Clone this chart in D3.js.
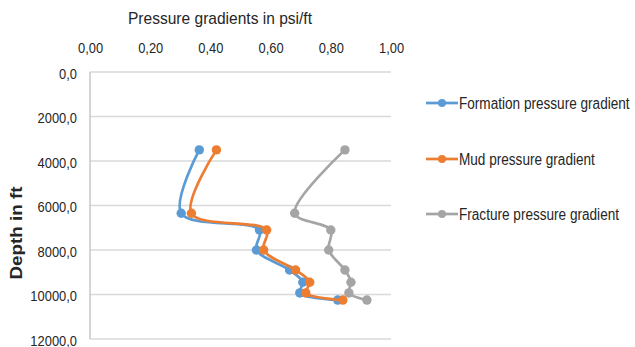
<!DOCTYPE html>
<html><head><meta charset="utf-8">
<script src="https://cdn.jsdelivr.net/npm/d3@7"></script>
<style>body{margin:0;background:#fff}svg{display:block}text{font-family:"Liberation Sans",sans-serif;fill:#262626}</style>
</head><body>
<svg id="c" width="635" height="347"></svg>
<script>
const depths = [3500, 6350, 7100, 8000, 8900, 9450, 9930, 10250];
const formation = [0.363, 0.303, 0.563, 0.553, 0.663, 0.707, 0.697, 0.823];
const mud = [0.420, 0.337, 0.587, 0.577, 0.683, 0.730, 0.717, 0.840];
const fracture = [0.847, 0.680, 0.800, 0.793, 0.847, 0.867, 0.860, 0.920];
const seriesNames = ["Formation pressure gradient", "Mud pressure gradient", "Fracture pressure gradient"];
const colors = ["#5B9BD5", "#ED7D31", "#A5A5A5"];
const xTicks = [0, 0.2, 0.4, 0.6, 0.8, 1.0];
const yTicks = [0, 2000, 4000, 6000, 8000, 10000, 12000];

const svg = d3.select("#c");
const x = d3.scaleLinear().domain([0, 1]).range([90, 391]);
const y = d3.scaleLinear().domain([0, 12000]).range([72, 339]);
const fmt2 = d => d3.format(".2f")(d).replace(".", ",");
const fmt1 = d => d3.format(".1f")(d).replace(".", ",");
function condense(sel, f) {
  sel.each(function () {
    const w = this.getComputedTextLength();
    d3.select(this).attr("textLength", w * f).attr("lengthAdjust", "spacingAndGlyphs");
  });
}

// gridlines
svg.append("g").selectAll("line").data(yTicks).join("line")
  .attr("x1", x(0)).attr("x2", x(1)).attr("y1", d => y(d)).attr("y2", d => y(d))
  .attr("stroke", "#D9D9D9").attr("stroke-width", 1.3);
// left axis line
svg.append("line").attr("x1", x(0)).attr("x2", x(0)).attr("y1", y(0)).attr("y2", y(12000))
  .attr("stroke", "#BFBFBF").attr("stroke-width", 1.3);

// top axis labels
const xa = svg.append("g").attr("transform", `translate(0,${y(0)})`)
  .call(d3.axisTop(x).tickValues(xTicks).tickFormat(fmt2).tickSize(0).tickPadding(19));
xa.select(".domain").remove();
xa.selectAll("text").attr("font-size", 15).attr("fill", "#262626").style("font-family", null);
condense(xa.selectAll("text"), 0.86);

const ya = svg.append("g").attr("transform", `translate(${x(0)},0)`)
  .call(d3.axisLeft(y).tickValues(yTicks).tickFormat(fmt1).tickSize(0).tickPadding(13));
ya.select(".domain").remove();
ya.selectAll("text").attr("font-size", 15).attr("fill", "#262626").attr("dy", "0.4em").style("font-family", null);
condense(ya.selectAll("text"), 0.86);

// titles
svg.append("text").attr("x", 220).attr("y", 24).attr("text-anchor", "middle")
  .attr("font-size", 17).attr("textLength", 184).attr("lengthAdjust", "spacingAndGlyphs")
  .text("Pressure gradients in psi/ft");
svg.append("text").attr("transform", "translate(22,233) rotate(-90)").attr("text-anchor", "middle")
  .attr("font-size", 17).attr("font-weight", "bold").attr("textLength", 93).attr("lengthAdjust", "spacingAndGlyphs")
  .text("Depth in ft");

// series
const allSeries = [formation, mud, fracture];
const line = d3.line().x(d => x(d[0])).y(d => y(d[1])).curve(d3.curveCatmullRom.alpha(0.5));
allSeries.forEach((vals, i) => {
  const pts = vals.map((v, j) => [v, depths[j]]);
  const g = svg.append("g");
  g.append("path").attr("d", line(pts)).attr("fill", "none").attr("stroke", colors[i]).attr("stroke-width", 2.7);
  g.selectAll("circle").data(pts).join("circle")
    .attr("cx", d => x(d[0])).attr("cy", d => y(d[1])).attr("r", 4.7).attr("fill", colors[i]);
});

// legend
const legY = [103, 159, 214];
seriesNames.forEach((n, i) => {
  const g = svg.append("g").attr("transform", `translate(0,${legY[i]})`);
  g.append("line").attr("x1", 426).attr("x2", 458).attr("stroke", colors[i]).attr("stroke-width", 2.7);
  g.append("circle").attr("cx", 442).attr("r", 4).attr("fill", colors[i]);
  g.append("text").attr("transform", "translate(459,6) scale(1,1.24)")
    .attr("font-size", 13.6).text(n);
});
</script>
</body></html>
